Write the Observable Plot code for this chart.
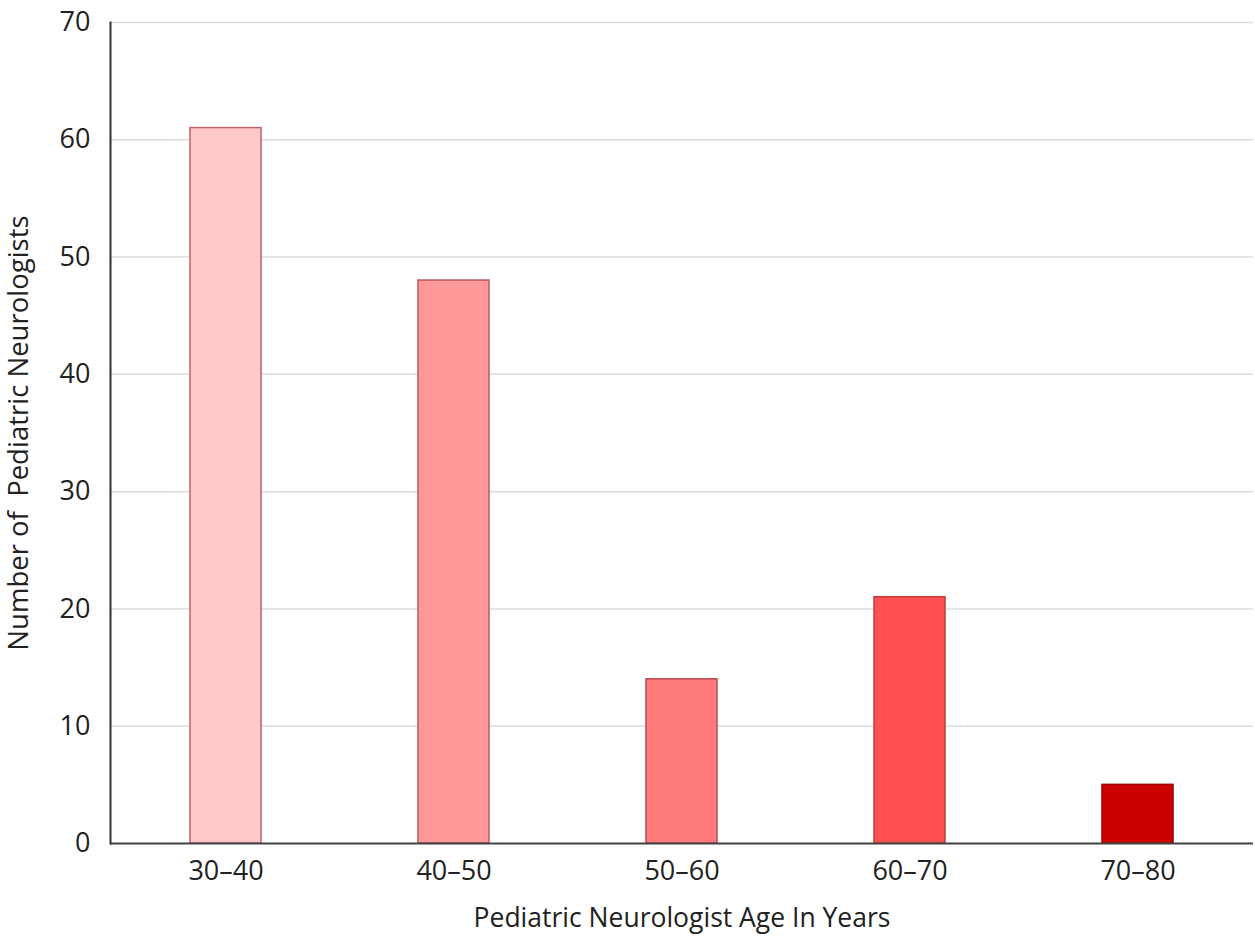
<!DOCTYPE html>
<html>
<head>
<meta charset="utf-8">
<script src="https://cdn.jsdelivr.net/npm/d3@7"></script>
<script src="https://cdn.jsdelivr.net/npm/@observablehq/plot@0.6"></script>
<style>
  html, body { margin: 0; padding: 0; background: #ffffff; }
  #chart { width: 1255px; height: 944px; }
</style>
</head>
<body>
<div id="chart"></div>
<script>
const categories = ["30–40", "40–50", "50–60", "60–70", "70–80"];
const counts = [61, 48, 14, 21, 5];
const fillColors = ["#ffc9c9", "#ff9999", "#ff7a7a", "#ff5050", "#cc0000"];
const strokeColors = ["#c0606e", "#b85a62", "#b84c52", "#c03c3c", "#a00000"];
const yTicks = [0, 10, 20, 30, 40, 50, 60, 70];
const xTitle = "Pediatric Neurologist Age In Years";
const yTitle = "Number of  Pediatric Neurologists";

const data = categories.map((c, i) => ({ category: c, count: counts[i], fill: fillColors[i], stroke: strokeColors[i] }));

const chart = Plot.plot({
  width: 1255,
  height: 944,
  marginLeft: 110,
  marginRight: 2,
  marginTop: 22,
  marginBottom: 101,
  style: { fontFamily: "'Open Sans', sans-serif", background: "#ffffff", color: "#222" },
  x: { domain: categories, paddingInner: 0.69, paddingOuter: 0.345, label: null },
  y: { domain: [0, 70], ticks: yTicks, label: null },
  marks: [
    Plot.gridY(yTicks, { stroke: "#dcdcdc", strokeOpacity: 1, strokeWidth: 1.5 }),
    Plot.barY(data, { x: "category", y: "count", fill: "fill", stroke: "stroke", strokeWidth: 1.5 }),
    Plot.ruleY([0], { stroke: "#444", strokeWidth: 2 }),
    Plot.frame({ anchor: "left", stroke: "#333", strokeWidth: 2 }),
    Plot.axisY(yTicks, {
      tickSize: 0, tickPadding: 20, fontSize: 27, fill: "#222",
      label: null
    }),
    Plot.axisY({
      ticks: [], tickSize: 0, fontSize: 27.5, fill: "#222",
      label: yTitle, labelAnchor: "center", labelArrow: "none", labelOffset: 102
    }),
    Plot.axisX({
      tickSize: 0, tickPadding: 17, fontSize: 27, fill: "#222",
      label: null
    }),
    Plot.axisX({
      ticks: [], tickSize: 0, fontSize: 26.5, fill: "#222", dx: -13,
      label: xTitle, labelAnchor: "center", labelArrow: "none", labelOffset: 83
    })
  ]
});
document.getElementById("chart").appendChild(chart);
</script>
</body>
</html>
